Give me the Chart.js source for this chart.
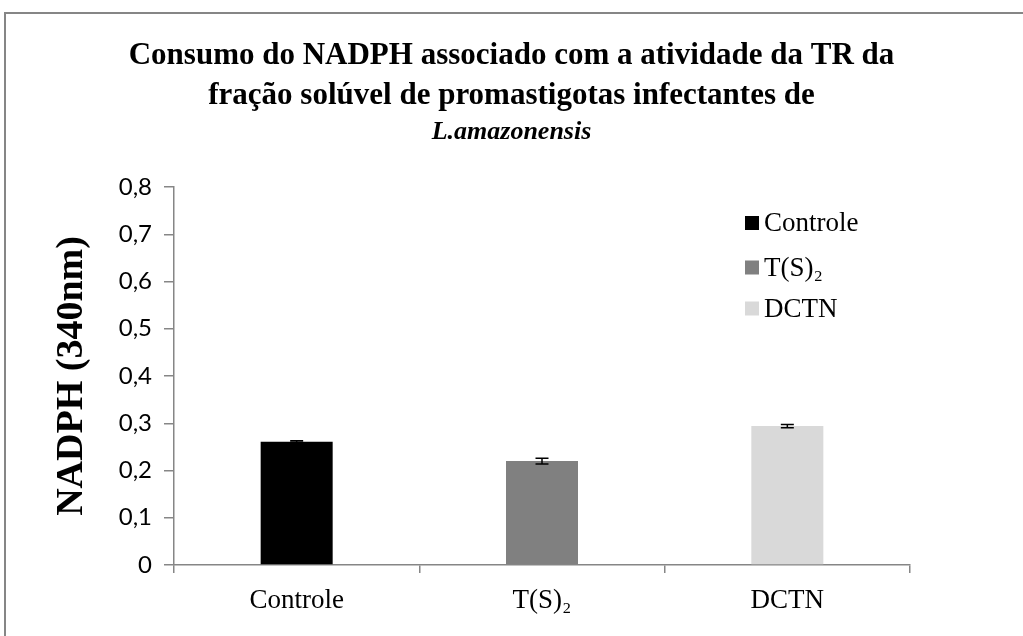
<!DOCTYPE html>
<html><head><meta charset="utf-8">
<script src="https://cdn.jsdelivr.net/npm/chart.js@4.4.1/dist/chart.umd.min.js"></script>
<style>
html,body{margin:0;padding:0;background:#fff;overflow:hidden;width:1023px;height:636px;}
#frame{position:absolute;left:4px;top:12px;width:1100px;height:700px;border:2px solid #868686;box-sizing:border-box;}
#c{position:absolute;left:0;top:0;}
</style></head><body>
<div id="frame"></div>
<canvas id="c" width="1023" height="636"></canvas>
<script>
const categories = ['Controle', 'T(S)\u2082', 'DCTN'];
const values = [0.261, 0.220, 0.294];
const errors = [0.002, 0.006, 0.0035];
const barColors = ['#000000', '#808080', '#d9d9d9'];
const yTickLabels = ['0', '0,1', '0,2', '0,3', '0,4', '0,5', '0,6', '0,7', '0,8'];
const titleLines = ['Consumo do NADPH associado com a atividade da TR da', 'fração solúvel de promastigotas infectantes de'];
const subtitleText = 'L.amazonensis';
const yAxisTitle = 'NADPH (340nm)';

const errorBars = {
  id: 'errorBars',
  afterDatasetsDraw(chart) {
    const ctx = chart.ctx, y = chart.scales.y;
    const meta = chart.getDatasetMeta(0);
    ctx.save();
    ctx.strokeStyle = '#000';
    ctx.lineWidth = 1.5;
    meta.data.forEach((bar, i) => {
      const x = bar.x;
      const yt = y.getPixelForValue(values[i] + errors[i]);
      const yb = y.getPixelForValue(values[i] - errors[i]);
      ctx.beginPath();
      ctx.moveTo(x, yt); ctx.lineTo(x, yb);
      ctx.moveTo(x - 6.5, yt); ctx.lineTo(x + 6.5, yt);
      ctx.moveTo(x - 6.5, yb); ctx.lineTo(x + 6.5, yb);
      ctx.stroke();
    });
    ctx.restore();
  }
};

const innerLegend = {
  id: 'innerLegend',
  afterDraw(chart) {
    const ctx = chart.ctx, a = chart.chartArea;
    const x0 = a.left + 571;
    const rows = [36, 80.5, 121.5];
    ctx.save();
    ctx.font = '27px "Liberation Serif"';
    ctx.textBaseline = 'middle';
    ctx.textAlign = 'left';
    categories.forEach((c, i) => {
      const yc = a.top + rows[i];
      ctx.fillStyle = barColors[i];
      ctx.fillRect(x0, yc - 7, 14, 14);
      ctx.fillStyle = '#000';
      ctx.fillText(c, x0 + 19, yc + 1);
    });
    ctx.restore();
  }
};

new Chart(document.getElementById('c'), {
  type: 'bar',
  data: {
    labels: categories,
    datasets: [{
      data: values,
      backgroundColor: barColors,
      borderWidth: 0,
      barPercentage: 0.2935,
      categoryPercentage: 1
    }]
  },
  options: {
    responsive: false,
    animation: false,
    layout: { padding: { left: 0, right: 0, top: 0, bottom: 0 } },
    plugins: {
      legend: { display: false },
      tooltip: { enabled: false },
      title: {
        display: true,
        text: titleLines,
        color: '#000',
        font: { family: 'Liberation Serif', size: 31, weight: 'bold', lineHeight: 40 / 31 },
        padding: { top: 36, bottom: 0 }
      },
      subtitle: {
        display: true,
        text: subtitleText,
        color: '#000',
        font: { family: 'Liberation Serif', size: 26, weight: 'bold', style: 'italic', lineHeight: 32 / 26 },
        padding: { top: 0, bottom: 39 }
      }
    },
    scales: {
      x: {
        type: 'category',
        offset: true,
        grid: { offset: true, drawOnChartArea: false, drawTicks: true, tickLength: 8, color: '#868686', lineWidth: 1.5 },
        border: { color: '#868686', width: 1.5 },
        ticks: { font: { family: 'Liberation Serif', size: 27 }, color: '#000', padding: 12 },
        afterFit(s) { s.height = 71; }
      },
      y: {
        min: 0, max: 0.8,
        ticks: {
          stepSize: 0.1,
          callback: (v, i) => yTickLabels[i],
          font: { family: 'Lato', size: 24 },
          color: '#000',
          padding: 12
        },
        grid: { drawOnChartArea: false, tickLength: 10, color: '#868686', lineWidth: 1.5 },
        border: { color: '#868686', width: 1.5 },
        title: {
          display: true,
          text: yAxisTitle,
          color: '#000',
          font: { family: 'Liberation Serif', size: 38, weight: 'bold' },
          padding: { top: 49, bottom: 0 }
        },
        afterFit(s) { s.width = 174; }
      },
      yRight: {
        position: 'right',
        display: true,
        min: 0, max: 1,
        grid: { display: false, drawTicks: false },
        border: { display: false },
        ticks: { display: false },
        afterFit(s) { s.width = 113; }
      }
    }
  },
  plugins: [errorBars, innerLegend]
});
</script>
</body></html>
